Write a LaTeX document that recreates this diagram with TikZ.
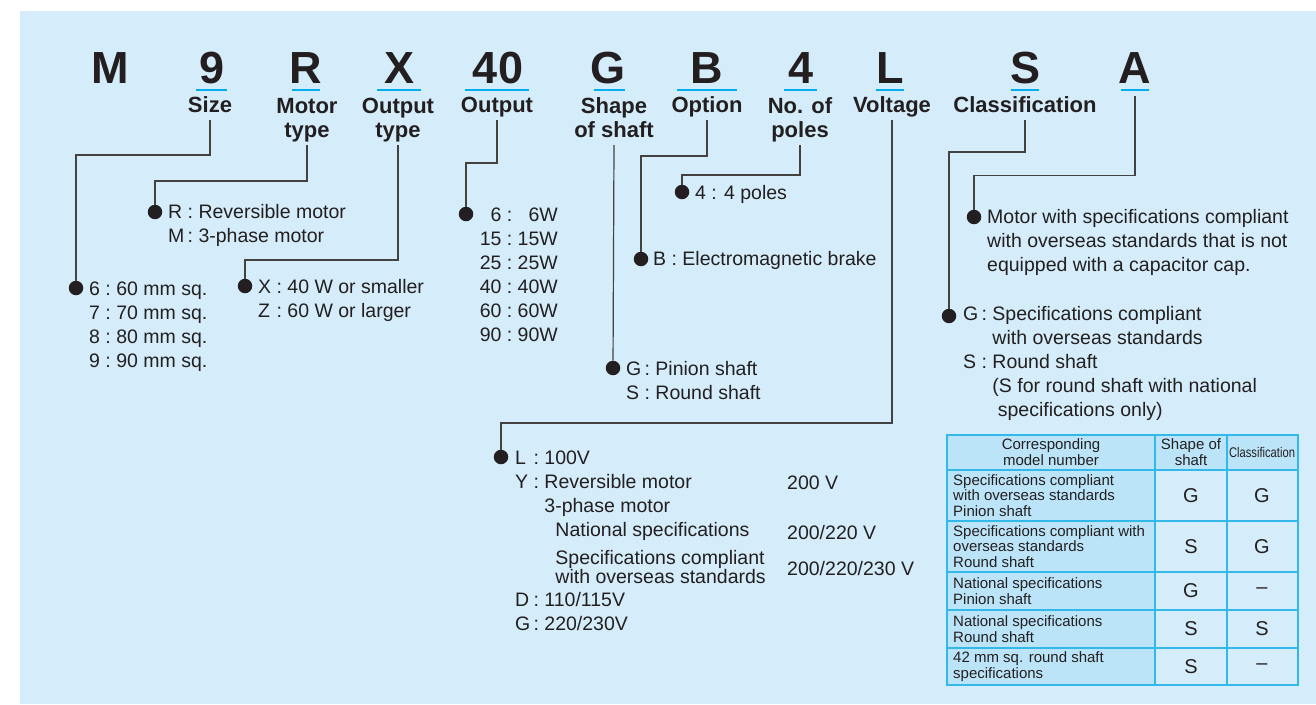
\documentclass[tikz,border=0pt]{standalone}
\usepackage{fontspec}
\setmainfont{Liberation Sans}
\usepackage{graphicx}
\definecolor{panel}{HTML}{D5EDFA}
\definecolor{ink}{HTML}{231F20}
\definecolor{mark}{HTML}{00AEEF}
\definecolor{cellhead}{HTML}{BCE4F8}
\definecolor{rule}{HTML}{33B8EA}
\begin{document}
\begin{tikzpicture}[x=1pt, y=-1pt,
    code/.style={font=\fontsize{45}{48}\selectfont\bfseries, text=ink, anchor=base, inner sep=0pt},
    field/.style={font=\fontsize{22}{24}\selectfont\bfseries, text=ink, align=center, anchor=south, inner sep=0pt, outer sep=8pt, text depth=0pt},
    desc/.style={font=\fontsize{19.5}{24}\selectfont, text=ink, anchor=base west, inner sep=0pt},
    dot/.style={circle, fill=ink, inner sep=0pt, minimum size=14.5pt},
    lead/.style={draw=ink!85, line width=1.2pt},
    uline/.style={draw=mark, line width=2.8pt},
    grid/.style={draw=rule, line width=1.4pt},
    cell/.style={font=\fontsize{15}{15.5}\selectfont, text=ink, inner sep=0pt},
    letter/.style={font=\fontsize{20}{24}\selectfont, text=ink, inner sep=0pt}]
  \useasboundingbox (0,0) rectangle (1316,704);
  \fill[panel] (20,11) rectangle (1316,704);

  % model code
  \node[code] (cM) at (110,83) {M};
  \node[code] (c9) at (212,83) {9};
  \node[code] (cR) at (306,83) {R};
  \node[code] (cX) at (400,83) {X};
  \node[code] (c40) at (498,83) {40};
  \node[code] (cG) at (608,83) {G};
  \node[code] (cB) at (707,83) {B};
  \node[code] (c4) at (801,83) {4};
  \node[code] (cL) at (890,83) {L};
  \node[code] (cS) at (1025,83) {S};
  \node[code] (cA) at (1135,83) {A};
  \foreach \a/\b in {196/227, 292/320, 377/421, 465/529, 594/625, 677/737, 784/817, 876/904, 1011/1039, 1121/1149}
    \draw[uline] (\a,90) -- (\b,90);

  % field names
  \node[field] (lblSize) at (210,120) {Size};
  \node[field] (lblMotor) at (307,145) {Motor\\type};
  \node[field] (lblOutType) at (398,145) {Output\\type};
  \node[field] (lblOutput) at (497,120) {Output};
  \node[field] (lblShape) at (614,145) {Shape\\of shaft};
  \node[field] (lblOption) at (707,120) {Option};
  \node[field] (lblPoles) at (800,145) {No. of\\poles};
  \node[field] (lblVolt) at (892,120) {Voltage};
  \node[field] (lblClass) at (1025,120) {Classification};

  % bullets
  \node[dot] (dotSize) at (76,288) {};
  \node[dot] (dotMotor) at (155,212) {};
  \node[dot] (dotOutType) at (245,286) {};
  \node[dot] (dotOutput) at (466,214) {};
  \node[dot] (dotShape) at (613,368) {};
  \node[dot] (dotOption) at (641,259) {};
  \node[dot] (dotPoles) at (682,192) {};
  \node[dot] (dotVolt) at (501,457) {};
  \node[dot] (dotClass) at (949,316) {};
  \node[dot] (dotSuffix) at (974,217) {};

  % leaders
  \draw[lead] (lblSize.south) -- ++(0,35) -| (dotSize);
  \draw[lead] (lblMotor.south) -- ++(0,36) -| (dotMotor);
  \draw[lead] (lblOutType.south) -- ++(0,115) -| (dotOutType);
  \draw[lead] (lblOutput.south) -- ++(0,43) -| (dotOutput);
  \draw[lead] (lblShape.south) -- (dotShape);
  \draw[lead] (lblOption.south) -- ++(0,36) -| (dotOption);
  \draw[lead] (lblPoles.south) -- ++(0,30) -| (dotPoles);
  \draw[lead] (lblVolt.south) -- ++(0,303) -| (dotVolt);
  \draw[lead] (lblClass.south) -- ++(0,32) -| (dotClass);
  \draw[lead] (cA.south) ++(0,13) -- ++(0,79) -| (dotSuffix);

  % descriptions
  \node[desc] (txtSize) at (89,295) {\begin{tabular}[t]{@{}l@{\ :\ }l@{}}
    6 & 60 mm sq.\\ 7 & 70 mm sq.\\ 8 & 80 mm sq.\\ 9 & 90 mm sq.\end{tabular}};
  \node[desc] (txtMotor) at (168,218) {\begin{tabular}[t]{@{}l@{\,:\ }l@{}}
    R & Reversible motor\\ M & 3-phase motor\end{tabular}};
  \node[desc] (txtOutType) at (258,293) {\begin{tabular}[t]{@{}l@{\ :\ }l@{}}
    X & 40 W or smaller\\ Z & 60 W or larger\end{tabular}};
  \node[desc, anchor=base east] (txtOutput) at (558,221) {\begin{tabular}[t]{@{}r@{\ :\ }r@{}}
    6 & 6W\\ 15 & 15W\\ 25 & 25W\\ 40 & 40W\\ 60 & 60W\\ 90 & 90W\end{tabular}};
  \node[desc] (txtPoles) at (695,199) {4 : 4 poles};
  \node[desc] (txtOption) at (653,265) {B : Electromagnetic brake};
  \node[desc] (txtShape) at (626,375) {\begin{tabular}[t]{@{}l@{\,:\ }l@{}}
    G & Pinion shaft\\ S & Round shaft\end{tabular}};
  \node[desc] (txtVolt) at (515,464) {\begin{tabular}[t]{@{}l@{\,:\ }l@{}}
    L & 100V\\
    Y & \begin{tabular}[t]{@{}l@{}}Reversible motor\\ 3-phase motor\\
      \hspace{11pt}National specifications\\[4pt]
      \hspace{11pt}{\fontsize{19.5}{19}\selectfont\begin{tabular}[t]{@{}l@{}}Specifications compliant\\ with overseas standards\end{tabular}}
      \end{tabular}\\[3pt]
    D & 110/115V\\
    G & 220/230V\end{tabular}};
  \node[desc] (vRev) at (787,489) {200 V};
  \node[desc] (vNat) at (787,539) {200/220 V};
  \node[desc] (vOver) at (787,575) {200/220/230 V};
  \node[desc] (txtClass) at (963,320) {\begin{tabular}[t]{@{}l@{\,:\ }l@{}}
    G & \begin{tabular}[t]{@{}l@{}}Specifications compliant\\ with overseas standards\end{tabular}\\
    S & \begin{tabular}[t]{@{}l@{}}Round shaft\\ (S for round shaft with national\\ \ specifications only)\end{tabular}\end{tabular}};
  \node[desc] (txtSuffix) at (987,223) {\begin{tabular}[t]{@{}l@{}}
    Motor with specifications compliant\\ with overseas standards that is not\\ equipped with a capacitor cap.\end{tabular}};

  % table of model numbers
  \fill[cellhead] (947,435) rectangle (1298,470);
  \fill[cellhead] (947,470) rectangle (1155,685);
  \foreach \y in {470,521,572,610,648}
    \draw[grid] (947,\y) -- (1298,\y);
  \foreach \x in {1155,1227}
    \draw[grid] (\x,435) -- (\x,685);
  \draw[grid] (947,435) rectangle (1298,685);
  \node[cell, align=center] (hModel) at (1051,452) {Corresponding\\model number};
  \node[cell, align=center] (hShape) at (1191,452) {Shape of\\shaft};
  \node[cell, font=\fontsize{14}{15}\selectfont] (hClass) at (1262,452) {\scalebox{0.8}[1]{Classification}};
  \node[cell, anchor=west, align=left] (m1) at (953,495.5) {Specifications compliant\\with overseas standards\\Pinion shaft};
  \node[cell, anchor=west, align=left] (m2) at (953,546.5) {Specifications compliant with\\overseas standards\\Round shaft};
  \node[cell, anchor=west, align=left] (m3) at (953,591) {National specifications\\Pinion shaft};
  \node[cell, anchor=west, align=left] (m4) at (953,629) {National specifications\\Round shaft};
  \node[cell, anchor=west, align=left] (m5) at (953,666.5) {42 mm sq. round shaft\\specifications};
  \foreach \y/\s/\c [count=\i] in {495.5/G/G, 546.5/S/G, 591/G/–, 629/S/S, 666.5/S/–} {
    \node[letter] (sh\i) at (1191,\y) {\s};
    \node[letter] (cl\i) at (1262,\y) {\c};
  }
\end{tikzpicture}
\end{document}
